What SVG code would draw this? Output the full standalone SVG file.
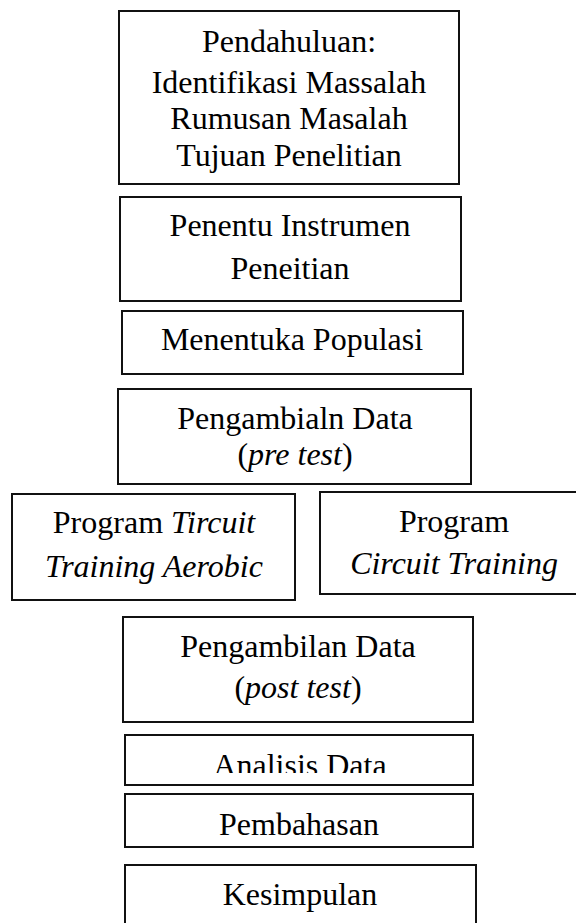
<svg xmlns="http://www.w3.org/2000/svg" width="576" height="923" viewBox="0 0 576 923">
  <style>
    .box { fill: #fff; stroke: #111; stroke-width: 2; }
    .t { font-family: "Liberation Serif", "Times New Roman", serif; font-size: 32px; fill: #000; text-anchor: middle; }
    .i { font-style: italic; }
  </style>
  <defs>
    <clipPath id="clipAnalisis">
      <rect x="125" y="735" width="348" height="38"/>
    </clipPath>
  </defs>
  <rect width="576" height="923" fill="#fff"/>

  <g id="pendahuluan">
    <rect class="box" x="119" y="11" width="340" height="173"/>
    <text class="t" x="289" y="52">Pendahuluan:</text>
    <text class="t" x="289" y="93">Identifikasi Massalah</text>
    <text class="t" x="289" y="129">Rumusan Masalah</text>
    <text class="t" x="289" y="166">Tujuan Penelitian</text>
  </g>

  <g id="instrumen">
    <rect class="box" x="120" y="197" width="341" height="104"/>
    <text class="t" x="290" y="236">Penentu Instrumen</text>
    <text class="t" x="290" y="279">Peneitian</text>
  </g>

  <g id="populasi">
    <rect class="box" x="122" y="311" width="341" height="63"/>
    <text class="t" x="292" y="350">Menentuka Populasi</text>
  </g>

  <g id="pretest">
    <rect class="box" x="118" y="389" width="353" height="95"/>
    <text class="t" x="295" y="429">Pengambialn Data</text>
    <text class="t" x="295" y="465">(<tspan class="i">pre test</tspan>)</text>
  </g>

  <g id="program-aerobic">
    <rect class="box" x="12" y="494" width="283" height="106"/>
    <text class="t" x="154" y="533">Program <tspan class="i">Tircuit</tspan></text>
    <text class="t i" x="154" y="577">Training Aerobic</text>
  </g>

  <g id="program-circuit">
    <rect class="box" x="320" y="492" width="268" height="102"/>
    <text class="t" x="454" y="532">Program</text>
    <text class="t i" x="454" y="574">Circuit Training</text>
  </g>

  <g id="posttest">
    <rect class="box" x="123" y="617" width="350" height="105"/>
    <text class="t" x="298" y="657">Pengambilan Data</text>
    <text class="t" x="298" y="698">(<tspan class="i">post test</tspan>)</text>
  </g>

  <g id="analisis">
    <rect class="box" x="125" y="735" width="348" height="50"/>
    <text class="t" x="300" y="776" clip-path="url(#clipAnalisis)">Analisis Data</text>
  </g>

  <g id="pembahasan">
    <rect class="box" x="125" y="794" width="348" height="53"/>
    <text class="t" x="299" y="835">Pembahasan</text>
  </g>

  <g id="kesimpulan">
    <rect class="box" x="125" y="865" width="351" height="70"/>
    <text class="t" x="300" y="905">Kesimpulan</text>
  </g>

  <g id="connectors"/>
</svg>
